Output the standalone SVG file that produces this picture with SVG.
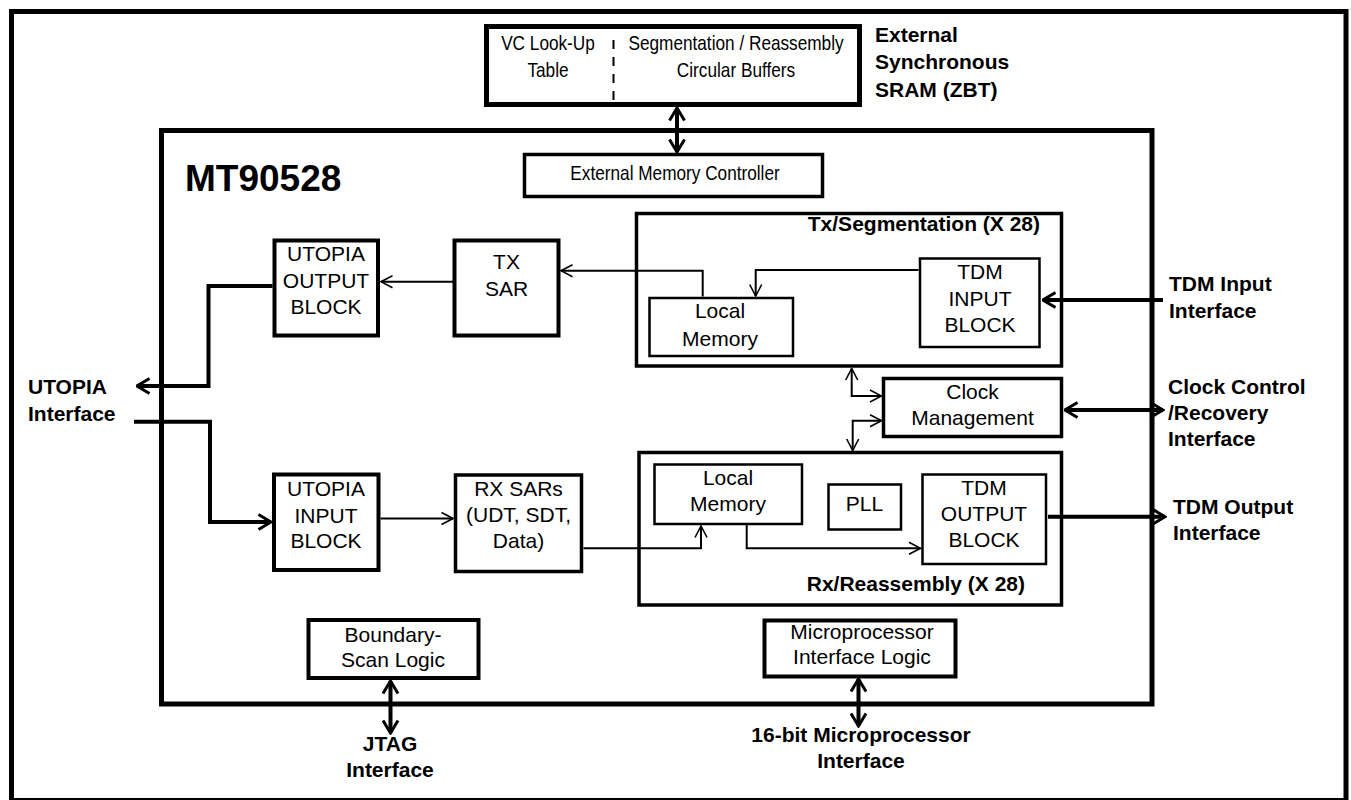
<svg xmlns="http://www.w3.org/2000/svg" width="1351" height="800" viewBox="0 0 1351 800">
<style>
  .box { fill: none; stroke: #000; }
  .w5 { stroke-width: 5; }
  .w4 { stroke-width: 4; }
  .w35 { stroke-width: 3.5; }
  .w25 { stroke-width: 2.5; }
  .t { font-family: "Liberation Sans", Arial, sans-serif; font-size: 21px; text-anchor: middle; fill: #000; }
  .n { font-family: "Liberation Sans", Arial, sans-serif; font-size: 21px; text-anchor: middle; fill: #000;
       transform-box: fill-box; transform-origin: center; transform: scaleX(0.82); }
  .b { font-family: "Liberation Sans", Arial, sans-serif; font-size: 21px; font-weight: bold; fill: #000; }
  .thick { fill: none; stroke: #000; stroke-width: 4; }
  .thin { fill: none; stroke: #000; stroke-width: 2; }
</style>
<defs>
  <marker id="ah" markerUnits="userSpaceOnUse" viewBox="0 0 16 18" refX="14.5" refY="9" markerWidth="16" markerHeight="18" orient="auto-start-reverse">
    <path d="M2,1.5 L14.5,9 L2,16.5" fill="none" stroke="#000" stroke-width="3"/>
  </marker>
  <marker id="as" markerUnits="userSpaceOnUse" viewBox="0 0 14 16" refX="13" refY="8" markerWidth="14" markerHeight="16" orient="auto-start-reverse">
    <path d="M1.5,2 L13,8 L1.5,14" fill="none" stroke="#000" stroke-width="1.6"/>
  </marker>
</defs>
<rect width="1351" height="800" fill="#fff"/>

<g id="frame">
  <rect class="box w5" x="11.5" y="11.5" width="1334.5" height="789"/>
</g>

<g id="sram">
  <rect class="box w5" x="486.5" y="26.5" width="373" height="78"/>
  <line x1="613.5" y1="40" x2="613.5" y2="102" stroke="#000" stroke-width="2" stroke-dasharray="9 8"/>
  <text class="n" x="548" y="50">VC Look-Up</text>
  <text class="n" x="548" y="77">Table</text>
  <text class="n" x="736" y="50">Segmentation / Reassembly</text>
  <text class="n" x="736" y="77">Circular Buffers</text>
</g>
<g id="sram-label">
  <text class="b" x="875" y="42">External</text>
  <text class="b" x="875" y="69">Synchronous</text>
  <text class="b" x="875" y="97">SRAM (ZBT)</text>
</g>

<g id="chip">
  <rect class="box w5" x="161.5" y="130.5" width="990.5" height="573.5"/>
  <text class="b" x="185" y="190.5" style="font-size:37px">MT90528</text>
</g>

<g id="emc">
  <rect class="box w35" x="524.5" y="154.5" width="298" height="42"/>
  <text class="n" x="675" y="180">External Memory Controller</text>
</g>

<g id="utopia-out">
  <rect class="box w4" x="274.5" y="240.5" width="103.5" height="95"/>
  <text class="t" x="326" y="261">UTOPIA</text>
  <text class="t" x="326" y="288">OUTPUT</text>
  <text class="t" x="326" y="314">BLOCK</text>
</g>

<g id="tx-sar">
  <rect class="box w4" x="454.5" y="240.5" width="104" height="95"/>
  <text class="t" x="506.5" y="269">TX</text>
  <text class="t" x="506.5" y="296">SAR</text>
</g>

<g id="tx-seg">
  <rect class="box w35" x="636.5" y="213.5" width="425" height="152.5"/>
  <text class="b" x="1040" y="231" text-anchor="end">Tx/Segmentation (X 28)</text>
</g>

<g id="tx-local-mem">
  <rect class="box w25" x="649.5" y="298" width="143.5" height="58"/>
  <text class="t" x="720" y="318">Local</text>
  <text class="t" x="720" y="346">Memory</text>
</g>

<g id="tdm-in">
  <rect class="box w25" x="920" y="258.5" width="119.5" height="88.5"/>
  <text class="t" x="980" y="279">TDM</text>
  <text class="t" x="980" y="306">INPUT</text>
  <text class="t" x="980" y="332">BLOCK</text>
</g>

<g id="clock-mgmt">
  <rect class="box w35" x="883.5" y="378.5" width="178" height="58"/>
  <text class="t" x="972.5" y="399">Clock</text>
  <text class="t" x="972.5" y="425">Management</text>
</g>

<g id="utopia-in">
  <rect class="box w4" x="274" y="474.5" width="104.5" height="95.5"/>
  <text class="t" x="326" y="496">UTOPIA</text>
  <text class="t" x="326" y="522.5">INPUT</text>
  <text class="t" x="326" y="548">BLOCK</text>
</g>

<g id="rx-sars">
  <rect class="box w35" x="455.5" y="475" width="126" height="96.5"/>
  <text class="t" x="518.5" y="496">RX SARs</text>
  <text class="t" x="518.5" y="522">(UDT, SDT,</text>
  <text class="t" x="518.5" y="548">Data)</text>
</g>

<g id="rx-reasm">
  <rect class="box w35" x="639" y="452.5" width="422.5" height="152.5"/>
  <text class="b" x="1025" y="591" text-anchor="end">Rx/Reassembly (X 28)</text>
</g>

<g id="rx-local-mem">
  <rect class="box w25" x="654.5" y="464.5" width="147.5" height="59.5"/>
  <text class="t" x="728" y="485">Local</text>
  <text class="t" x="728" y="511">Memory</text>
</g>

<g id="pll">
  <rect class="box w25" x="828.5" y="484.5" width="72.5" height="45"/>
  <text class="t" x="864.5" y="511">PLL</text>
</g>

<g id="tdm-out">
  <rect class="box w25" x="922.5" y="474.5" width="123.5" height="89.5"/>
  <text class="t" x="984" y="495">TDM</text>
  <text class="t" x="984" y="521">OUTPUT</text>
  <text class="t" x="984" y="547">BLOCK</text>
</g>

<g id="boundary-scan">
  <rect class="box w4" x="308.5" y="620" width="170" height="58"/>
  <text class="t" x="393" y="642">Boundary-</text>
  <text class="t" x="393" y="667">Scan Logic</text>
</g>

<g id="micro-logic">
  <rect class="box w4" x="764.5" y="620.5" width="191" height="56"/>
  <text class="t" x="862" y="639">Microprocessor</text>
  <text class="t" x="862" y="664">Interface Logic</text>
</g>

<g id="labels">
  <text class="b" x="28" y="394">UTOPIA</text>
  <text class="b" x="28" y="421">Interface</text>
  <text class="b" x="1169" y="291">TDM Input</text>
  <text class="b" x="1169" y="318">Interface</text>
  <text class="b" x="1168" y="394">Clock Control</text>
  <text class="b" x="1168" y="420">/Recovery</text>
  <text class="b" x="1168" y="446">Interface</text>
  <text class="b" x="1173" y="514">TDM Output</text>
  <text class="b" x="1173" y="540">Interface</text>
  <text class="b" x="390" y="751" text-anchor="middle">JTAG</text>
  <text class="b" x="390" y="777" text-anchor="middle">Interface</text>
  <text class="b" x="861" y="742" text-anchor="middle">16-bit Microprocessor</text>
  <text class="b" x="861" y="768" text-anchor="middle">Interface</text>
</g>

<g id="connectors">
  <path class="thick" d="M677,108 V152" marker-start="url(#ah)" marker-end="url(#ah)"/>
  <path class="thick" d="M272.5,286 H208.5 V386 H137" marker-end="url(#ah)"/>
  <path class="thick" d="M134,421.7 H210 V522 H271" marker-end="url(#ah)"/>
  <path class="thick" d="M1163,300 H1043" marker-end="url(#ah)"/>
  <path class="thick" d="M1065,410 H1163" marker-start="url(#ah)" marker-end="url(#ah)"/>
  <path class="thick" d="M1048,516.7 H1165" marker-end="url(#ah)"/>
  <path class="thick" d="M390.5,681 V733" marker-start="url(#ah)" marker-end="url(#ah)"/>
  <path class="thick" d="M858.5,679 V726" marker-start="url(#ah)" marker-end="url(#ah)"/>

  <path class="thin" d="M702.7,296.5 V270.7 H561" marker-end="url(#as)"/>
  <path class="thin" d="M918.5,270 H755.7 V296" marker-end="url(#as)"/>
  <path class="thin" d="M453,281.7 H381" marker-end="url(#as)"/>
  <path class="thin" d="M380.5,518.5 H453" marker-end="url(#as)"/>
  <path class="thin" d="M583.5,548.3 H701 V526" marker-end="url(#as)"/>
  <path class="thin" d="M746.7,525 V548.3 H920.5" marker-end="url(#as)"/>
  <path class="thin" d="M851.7,368.5 V396 H881.5" marker-start="url(#as)" marker-end="url(#as)"/>
  <path class="thin" d="M881.5,420.7 H852.7 V450.5" marker-start="url(#as)" marker-end="url(#as)"/>
</g>
</svg>
